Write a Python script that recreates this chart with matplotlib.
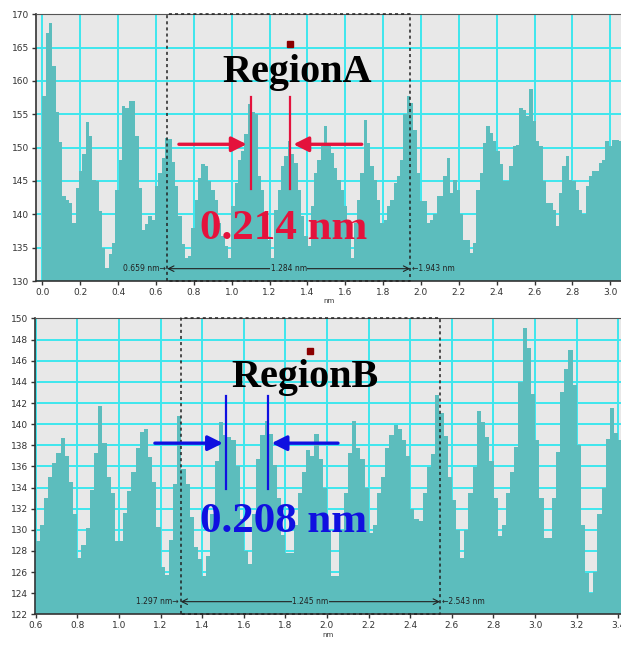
import numpy as np
import matplotlib
matplotlib.use("Agg")
import matplotlib.pyplot as plt

# line profile, top panel (region A): bin start and bin width in nm
top_x0 = 0.0
top_step = 0.0175
top_height = [
    157.7, 167.2, 168.7, 162.3, 155.4, 150.8, 142.7, 142.2, 141.7, 138.7,
    144.0, 146.5, 149.0, 153.9, 151.7, 145.2, 145.0, 140.5, 135.0, 132.0,
    134.0, 135.7, 143.7, 148.2, 156.3, 155.9, 157.0, 157.0, 151.7, 144.0,
    137.7, 138.5, 139.7, 139.2, 144.2, 146.2, 148.5, 151.5, 151.3, 147.8,
    144.2, 139.7, 135.5, 133.5, 133.7, 138.0, 142.2, 145.5, 147.5, 147.2,
    145.0, 143.7, 142.2, 138.7, 136.7, 135.2, 133.5, 141.2, 144.7, 148.2,
    149.5, 152.0, 156.6, 155.3, 155.0, 145.7, 143.7, 139.7, 136.2, 133.5,
    140.7, 143.7, 147.2, 148.7, 151.0, 149.0, 147.7, 143.7, 139.7, 136.7,
    135.2, 141.2, 146.2, 148.2, 150.2, 153.2, 150.5, 149.2, 147.0, 145.2,
    143.7, 141.2, 138.2, 133.5, 138.7, 142.2, 146.2, 154.2, 150.7, 147.2,
    145.2, 142.2, 138.7, 139.2, 141.2, 142.2, 144.7, 145.7, 148.2, 155.0,
    157.7, 156.7, 152.7, 146.2, 142.0, 142.0, 138.7, 139.2, 140.0, 142.7,
    142.7, 145.7, 148.5, 143.2, 145.2, 143.7, 140.0, 136.2, 136.2, 134.2,
    135.7, 143.7, 146.2, 150.7, 153.3, 152.2, 151.0, 149.5, 147.5, 145.0,
    145.0, 147.2, 150.3, 150.4, 156.0, 155.6, 154.7, 158.8, 154.0, 151.0,
    150.2, 145.0, 141.7, 141.7, 140.7, 138.2, 143.2, 147.2, 148.7, 145.2,
    145.0, 143.7, 140.7, 140.0, 144.2, 145.7, 146.5, 146.5, 147.7, 148.2,
    151.0, 150.2, 151.2, 151.2, 151.0,
]

# line profile, bottom panel (region B)
bot_x0 = 0.6
bot_step = 0.02
bot_height = [
    128.9, 130.5, 133.0, 135.0, 136.3, 137.3, 138.7, 137.0, 134.5, 131.5,
    127.3, 128.6, 130.2, 133.8, 137.3, 141.7, 138.2, 135.0, 133.5, 128.9,
    128.9, 131.6, 133.7, 135.5, 137.7, 139.3, 139.5, 136.9, 134.5, 130.3,
    126.5, 125.7, 129.0, 134.3, 140.8, 135.8, 134.3, 131.2, 128.4, 127.2,
    125.6, 127.5, 131.5, 136.5, 140.2, 139.0, 138.8, 138.5, 136.0, 131.0,
    128.0, 126.8, 131.5, 136.7, 139.0, 140.3, 139.1, 136.1, 133.0, 129.5,
    127.8, 127.8, 130.5, 133.5, 135.5, 137.6, 137.0, 139.1, 136.7, 134.0,
    130.0, 125.6, 125.6, 130.0, 133.5, 137.3, 140.3, 137.7, 136.7, 134.0,
    129.7, 130.5, 133.5, 135.0, 137.7, 139.0, 139.9, 139.5, 138.5, 137.0,
    132.0, 131.0, 130.8, 133.5, 135.9, 137.2, 142.8, 141.1, 138.9, 135.0,
    132.8, 130.0, 127.3, 130.0, 133.5, 135.9, 141.2, 140.2, 138.8, 136.5,
    133.0, 129.4, 130.5, 133.5, 135.5, 137.8, 144.0, 149.1, 147.2, 142.9,
    138.5, 133.0, 129.2, 129.2, 133.0, 137.4, 143.0, 145.2, 147.0, 143.7,
    138.0, 130.5, 125.9, 124.0, 126.0, 131.5, 134.0, 138.6, 141.5, 139.2,
    138.5,
]

# measured region markers (nm)
top_region = (0.659, 1.943)
bot_region = (1.297, 2.543)
top_span_label = "1.284 nm"
bot_span_label = "1.245 nm"
top_spacing = "0.214 nm"
bot_spacing = "0.208 nm"
top_peaks = (1.102, 1.308)
bot_peaks = (1.515, 1.718)

TEAL = "#5cbdbd"
GRID = "#3ee6ee"
BG = "#e8e8e8"
RED = "#e4123c"
BLUE = "#1010e0"


def style_axes(ax, xlim, ylim, xstep, ystep):
    """Gray background, cyan grid, small dark tick labels."""
    ax.set_facecolor(BG)
    ax.set_xlim(*xlim)
    ax.set_ylim(*ylim)
    xt = np.round(np.arange(np.ceil(xlim[0] / xstep) * xstep, xlim[1], xstep), 6)
    xt[np.abs(xt) < 1e-9] = 0.0
    ax.set_xticks(xt)
    ax.set_xticklabels([f"{abs(v):.1f}" if abs(v) < 1e-9 else f"{v:.1f}" for v in xt])
    ax.set_yticks(np.arange(ylim[0], ylim[1] + 0.01, ystep))
    ax.grid(True, color=GRID, lw=1.4)
    ax.set_axisbelow(True)
    ax.tick_params(direction="out", length=3, width=1, colors="#333333",
                   labelsize=6.5, pad=2)
    for s in ("left", "bottom"):
        ax.spines[s].set_color("#333333")
        ax.spines[s].set_linewidth(1.2)
    ax.spines["top"].set_color("#555555")
    ax.spines["right"].set_visible(False)
    ax.set_xlabel("nm", fontsize=5, color="#333333", labelpad=1)


def draw_profile(ax, x0, step, heights, base):
    x = x0 + step * np.arange(len(heights))
    h = np.asarray(heights) - base
    ax.bar(x, h, width=step * 1.03, bottom=base, align="edge",
           color=TEAL, linewidth=0, zorder=2)


def draw_region(ax, region, ylim, y_dim, span_label):
    x0, x1 = region
    ax.plot([x0, x0, x1, x1, x0], [ylim[0], ylim[1], ylim[1], ylim[0], ylim[0]],
            ls=(0, (2, 2)), color="#222222", lw=1.1, zorder=4, clip_on=False)
    ax.annotate("", xy=(x1, y_dim), xytext=(x0, y_dim),
                arrowprops=dict(arrowstyle="<->", lw=0.8, color="#222222",
                                shrinkA=0, shrinkB=0), zorder=5)
    ax.text((x0 + x1) / 2, y_dim, span_label, fontsize=5.5, color="#222222",
            ha="center", va="center", zorder=6,
            bbox=dict(facecolor=TEAL, edgecolor="none", pad=0.5))
    ax.text(x0 - 0.008, y_dim, f"{x0:.3f} nm\u2192", fontsize=5.5,
            color="#222222", ha="right", va="center", zorder=6)
    ax.text(x1 + 0.008, y_dim, f"\u2190{x1:.3f} nm", fontsize=5.5,
            color="#222222", ha="left", va="center", zorder=6)


def draw_markers(ax, peaks, y_line, y_arrow, arrows, color, label, label_xy,
                 title, title_xy, square_xy):
    for p in peaks:
        ax.plot([p, p], y_line, color=color, lw=1.6, zorder=5)
    for start, end in arrows:
        ax.annotate("", xy=(end, y_arrow), xytext=(start, y_arrow),
                    arrowprops=dict(arrowstyle="-|>,head_length=0.9,head_width=0.45",
                                    lw=2.4, color=color, shrinkA=0, shrinkB=0),
                    zorder=5)
    ax.text(*label_xy, label, fontsize=31, color=color, fontweight="bold",
            family="Liberation Serif", ha="center", va="baseline", zorder=6)
    ax.text(*title_xy, title, fontsize=29, color="black", fontweight="bold",
            family="Liberation Serif", ha="center", va="baseline", zorder=6)
    ax.plot(*square_xy, marker="s", ms=4.5, color="#8b0000", zorder=6)


fig = plt.figure(figsize=(6.21, 6.46), dpi=100)
ax1 = fig.add_axes([0.058, 0.565, 0.942, 0.413])
ax2 = fig.add_axes([0.0564, 0.049, 0.9436, 0.458])

ylim1 = (130, 170)
style_axes(ax1, (-0.034, 3.057), ylim1, 0.2, 5)
draw_profile(ax1, top_x0, top_step, top_height, ylim1[0])
draw_region(ax1, top_region, ylim1, 131.85, top_span_label)
draw_markers(ax1, top_peaks, (143.75, 157.6), 150.5,
             [(0.721, 1.079), (1.687, 1.326)], RED, top_spacing, (1.276, 136.25),
             "RegionA", (1.348, 159.9), (1.308, 165.5))

ylim2 = (122, 150)
style_axes(ax2, (0.597, 3.413), ylim2, 0.2, 2)
draw_profile(ax2, bot_x0, bot_step, bot_height, ylim2[0])
draw_region(ax2, bot_region, ylim2, 123.2, bot_span_label)
draw_markers(ax2, bot_peaks, (133.9, 142.7), 138.2,
             [(1.173, 1.50), (2.053, 1.734)], BLUE, bot_spacing, (1.793, 129.8),
             "RegionB", (1.894, 143.5), (1.918, 146.9))

fig.savefig("out.png", dpi=100)
